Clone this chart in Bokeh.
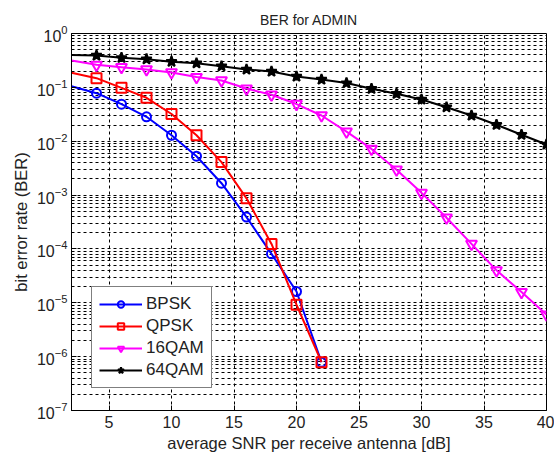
from bokeh.plotting import figure
from bokeh.models import FixedTicker, Legend, LegendItem, Range1d
from bokeh.embed import file_html
from bokeh.resources import INLINE

snr = [2, 4, 6, 8, 10, 12, 14, 16, 18, 20, 22, 24, 26, 28, 30, 32, 34, 36, 38, 40]
bpsk = [0.105, 0.078, 0.0487, 0.0284, 0.0129, 0.00527, 0.00166, 3.9e-4, 8.1e-5, 1.62e-5, 7.9e-7]
qpsk = [0.186, 0.148, 0.098, 0.064, 0.032, 0.0129, 0.0041, 8.7e-4, 1.24e-4, 9.2e-6, 7.9e-7]
qam16 = [0.315, 0.262, 0.237, 0.215, 0.189, 0.155, 0.134, 0.095, 0.073, 0.049, 0.030,
         0.0151, 0.0072, 0.00295, 0.0011, 3.8e-4, 1.24e-4, 4.0e-5, 1.58e-5, 6.0e-6]
qam64 = [0.40, 0.39, 0.353, 0.334, 0.30, 0.281, 0.247, 0.215, 0.197, 0.159, 0.14,
         0.12, 0.094, 0.076, 0.0596, 0.0428, 0.030, 0.0202, 0.0132, 0.0087]

x_ticks = [5, 10, 15, 20, 25, 30, 35, 40]
y_decades = [0, -1, -2, -3, -4, -5, -6, -7]

FONT = "Liberation Sans"

p = figure(width=554, height=456, y_axis_type="log",
           x_range=Range1d(2, 40), y_range=Range1d(1e-7, 1),
           output_backend="svg", toolbar_location=None,
           min_border_left=71, min_border_right=8, min_border_top=33, min_border_bottom=46)

p.title.text = "BER for ADMIN"
p.title.align = "center"
p.title.text_font = FONT
p.title.text_font_size = "14px"
p.title.text_font_style = "normal"
p.title.text_color = "#222222"
p.title.standoff = 12

p.outline_line_color = "black"
p.outline_line_width = 1

# axes
p.xaxis.ticker = FixedTicker(ticks=x_ticks)
p.yaxis.ticker = FixedTicker(ticks=[10.0 ** d for d in y_decades],
                             minor_ticks=[m * 10.0 ** d for d in y_decades[1:] for m in range(2, 10)])
for ax in (p.xaxis[0], p.yaxis[0]):
    ax.axis_line_color = "black"
    ax.major_tick_in = 5
    ax.major_tick_out = 0
    ax.minor_tick_in = 0
    ax.minor_tick_out = 0
    ax.major_label_text_font = FONT
    ax.major_label_text_font_size = "16px"
    ax.major_label_text_color = "#222222"
    ax.axis_label_text_font = FONT
    ax.axis_label_text_font_size = "16.5px"
    ax.axis_label_text_font_style = "normal"
    ax.axis_label_text_color = "#222222"
p.xaxis.axis_label = "average SNR per receive antenna [dB]"
p.yaxis.axis_label = "bit error rate (BER)"
p.xaxis.major_label_standoff = 5
p.xaxis.axis_label_standoff = 3
p.yaxis.major_label_standoff = 4
p.yaxis.axis_label_standoff = 4

# grid
for g in (p.xgrid[0], p.ygrid[0]):
    g.grid_line_color = "black"
    g.grid_line_dash = "3 3"
    g.grid_line_width = 1
p.ygrid.minor_grid_line_color = "black"
p.ygrid.minor_grid_line_dash = "3 3"
p.ygrid.minor_grid_line_width = 1

series = [
    ("BPSK", bpsk, "#0000FF", "circle", 9, False),
    ("QPSK", qpsk, "#FF0000", "square", 10, False),
    ("16QAM", qam16, "#FF00FF", "inverted_triangle", 11, False),
    ("64QAM", qam64, "#000000", "star", 11, True),
]

items = []
for name, vals, color, marker, size, filled in series:
    xs = snr[:len(vals)]
    r_line = p.line(xs, vals, line_color=color, line_width=2)
    r_mark = p.scatter(xs[1:], vals[1:], marker=marker, size=size,
                       line_color=color, line_width=2,
                       fill_color=color if filled else None)
    items.append(LegendItem(label=name, renderers=[r_line, r_mark]))

legend = Legend(items=items, location=(20, 22))
legend.border_line_color = "black"
legend.border_line_width = 1
legend.background_fill_color = "white"
legend.background_fill_alpha = 1
legend.label_text_font = FONT
legend.label_text_font_size = "17px"
legend.label_text_color = "#222222"
legend.glyph_width = 43
legend.glyph_height = 16
legend.label_height = 16
legend.spacing = 2
legend.padding = 7
legend.margin = 0
legend.label_standoff = 4
p.add_layout(legend, "center")

open("out.html", "w").write(file_html(p, INLINE))
